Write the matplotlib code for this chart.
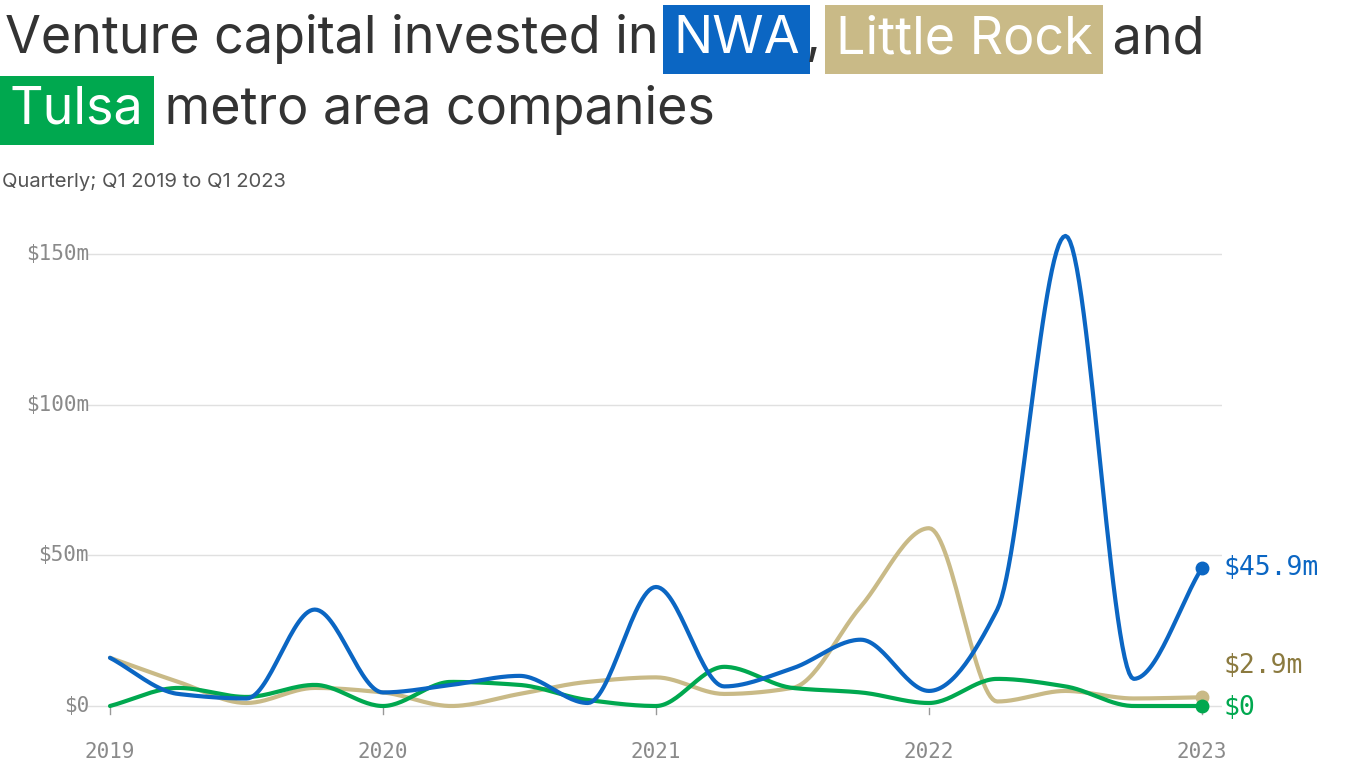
import numpy as np
import matplotlib
matplotlib.use("Agg")
import matplotlib.pyplot as plt

quarters = [2019 + i * 0.25 for i in range(17)]
nwa = [16, 4, 2.5, 32, 4.5, 7, 10, 1, 39.5, 6.5, 12.5, 22, 5, 32, 156, 9, 45.9]
little_rock = [16, 8, 1, 6, 4.5, 0, 4, 8, 9.5, 4, 6, 33, 59, 1.5, 5, 2.5, 2.9]
tulsa = [0, 6, 3, 7, 0, 8, 7, 2, 0, 13, 6, 4.5, 1, 9, 6.5, 0, 0]
yticks = [0, 50, 100, 150]
ylabels = ["$0", "$50m", "$100m", "$150m"]
xticks = [2019, 2020, 2021, 2022, 2023]

BLUE, TAN, GREEN = "#0b66c3", "#c9ba87", "#00a84f"

def monotone(x, y, n=30):
    x = np.asarray(x, float); y = np.asarray(y, float)
    h = np.diff(x); d = np.diff(y) / h
    m = np.zeros_like(y)
    m[0], m[-1] = d[0], d[-1]
    for i in range(1, len(y)-1):
        if d[i-1] * d[i] <= 0:
            m[i] = 0
        else:
            m[i] = 2 / (1/d[i-1] + 1/d[i])
    xs, ys = [], []
    t = np.linspace(0, 1, n, endpoint=False)
    for i in range(len(h)):
        h00 = 2*t**3 - 3*t**2 + 1; h10 = t**3 - 2*t**2 + t
        h01 = -2*t**3 + 3*t**2; h11 = t**3 - t**2
        xs.extend(x[i] + t*h[i])
        ys.extend(h00*y[i] + h10*h[i]*m[i] + h01*y[i+1] + h11*h[i]*m[i+1])
    xs.append(x[-1]); ys.append(y[-1])
    return np.array(xs), np.array(ys)

fig = plt.figure(figsize=(13.66, 7.68), dpi=100)
W, H = 1366, 768
ax = fig.add_axes([88/W, 1-722/H, (1222-88)/W, (722-228)/H])
x0 = 2019 - 22/273
ax.set_xlim(x0, 2019 + (1222-110)/273)
ppm = (706-254)/150
ax.set_ylim(-(722-706)/ppm, (706-228)/ppm)
for s in ax.spines.values():
    s.set_visible(False)
ax.set_yticks([]); ax.set_xticks([])
MONO = "DejaVu Sans Mono"
for v, l in zip(yticks, ylabels):
    ax.axhline(v, color="#e0e0e0", lw=1, zorder=0)
    ax.text(x0 + 1/273, v, l, ha="right", va="center", family=MONO,
            fontsize=15, color="#8a8a8a")
for xt in xticks:
    ax.text(xt, -(752-706)/ppm, str(xt), ha="center", va="center", family=MONO,
            fontsize=15, color="#8a8a8a")
    ax.plot([xt, xt], [-(714-706)/ppm, -(708-706)/ppm], color="#999", lw=1, clip_on=False)

for data, c in ((little_rock, TAN), (tulsa, GREEN), (nwa, BLUE)):
    xs, ys = monotone(quarters, data)
    ax.plot(xs, ys, color=c, lw=3, solid_capstyle="round", clip_on=False)
    ax.plot(quarters[-1], data[-1], "o", color=c, ms=9, clip_on=False)

lab_x = 2023 + 22/273
ax.text(lab_x, 45.9, "$45.9m", color=BLUE, family=MONO, fontsize=19, va="center")
ax.text(lab_x, (706-666)/ppm, "$2.9m", color="#8b7a3f", family=MONO, fontsize=19, va="center")
ax.text(lab_x, -(708-706)/ppm, "$0", color=GREEN, family=MONO, fontsize=19, va="center")

fig.canvas.draw()
r = fig.canvas.get_renderer()
FS = 37.5
def seq(parts, x, y):
    for txt, bg in parts:
        kw = dict(fontsize=FS, family="Inter", color="#333333", va="baseline", ha="left")
        if bg:
            kw.update(color="white", bbox=dict(boxstyle="square,pad=0.2", fc=bg, ec="none"))
        t = fig.text(x/W, 1-y/H, txt, **kw)
        bb = t.get_window_extent(r)
        x += bb.width + (6 if bg else 0)
seq([("Venture capital invested in ", None), ("NWA", BLUE), (", ", None),
     ("Little Rock", TAN), (" and", None)], 5, 53)
seq([("Tulsa", GREEN), (" metro area companies", None)], 10, 124)
fig.text(2/W, 1-182/H, "Quarterly; Q1 2019 to Q1 2023", fontsize=14.5, family="Inter",
         color="#555555", va="center")

fig.savefig("out.png", dpi=100)
